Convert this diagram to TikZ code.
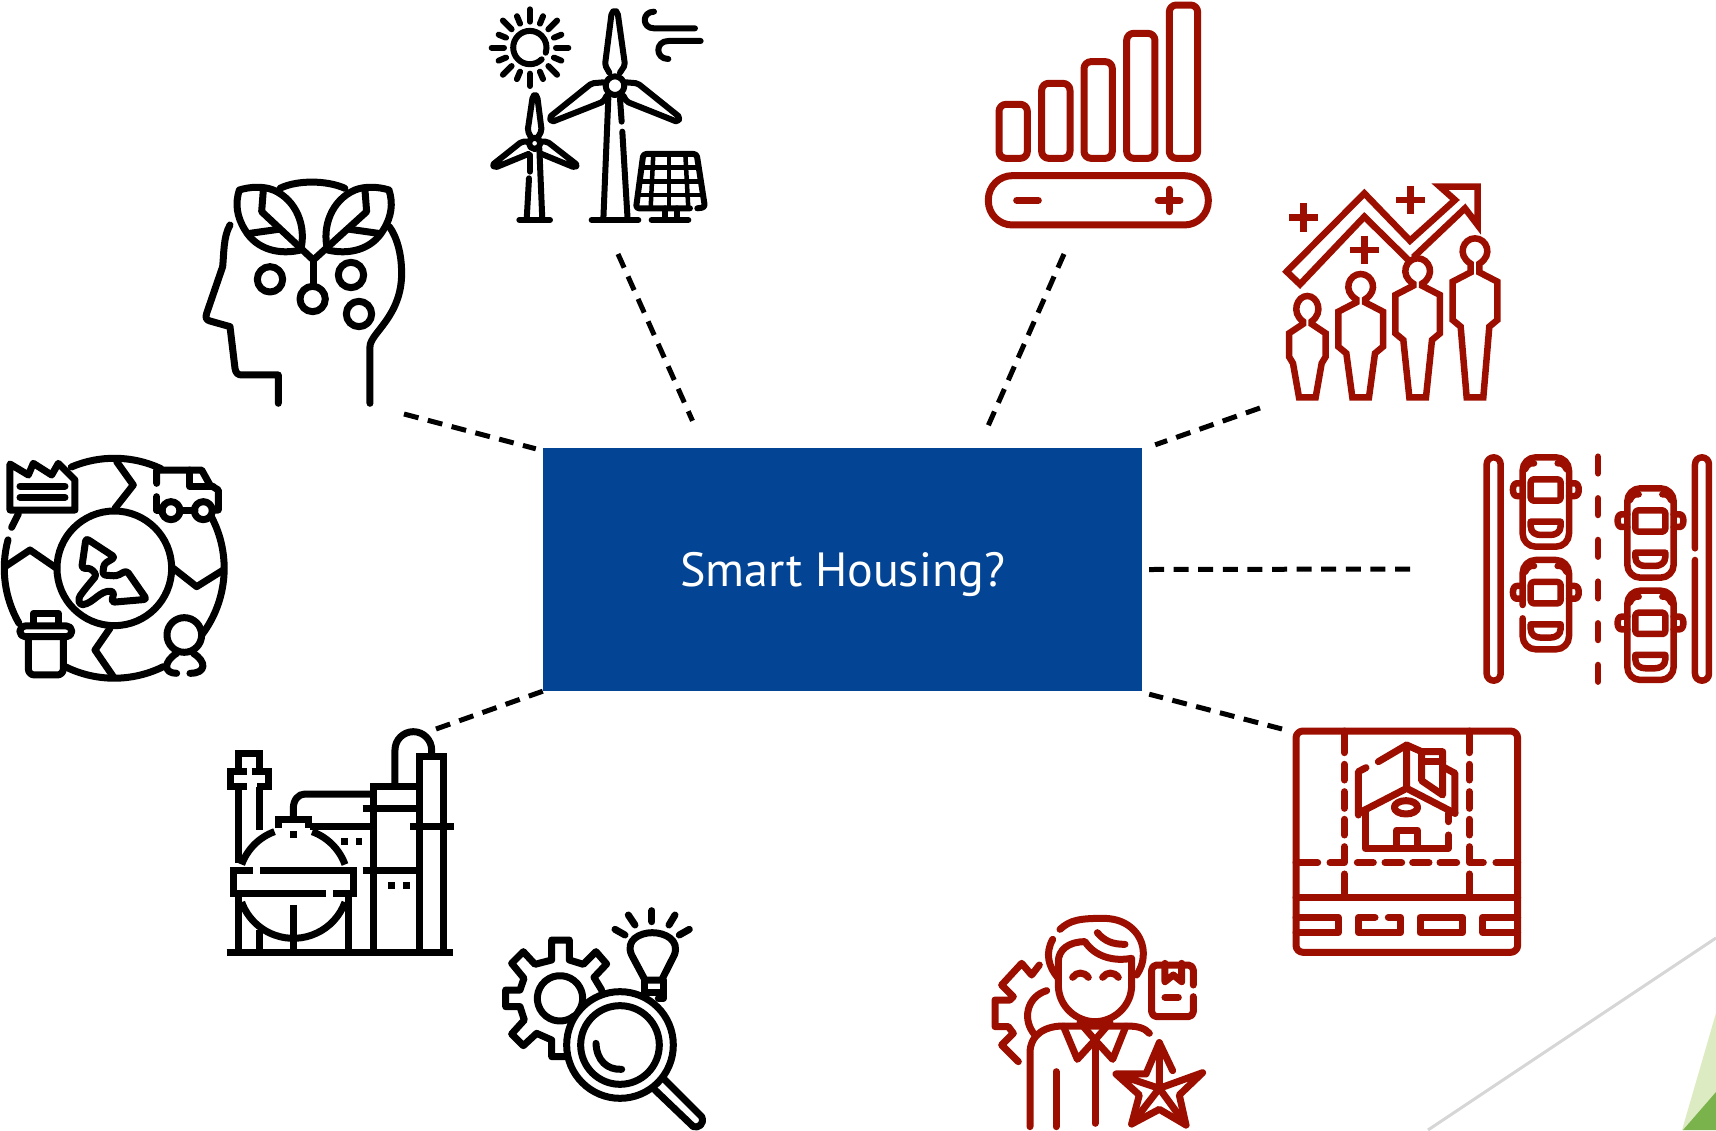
\documentclass[tikz,border=0pt]{standalone}
\usepackage{fontspec}
\setmainfont{PT Sans}
\usetikzlibrary{positioning,calc}
\definecolor{boxblue}{HTML}{034594}
\definecolor{iconred}{HTML}{9C0F00}
\definecolor{palegreen}{HTML}{DDEBC2}
\definecolor{leafgreen}{HTML}{7AB24B}
\definecolor{rulegrey}{HTML}{D6D6D6}
\tikzset{
  zoomed/.style={x=0.3333pt,y=-0.3333pt},
  iconline/.style={line width=#1,line cap=round,line join=round},
  iconline/.default=6pt,
  plantline/.style={line width=7pt,line cap=butt,line join=miter},
  dashlink/.style={line width=5pt,dash pattern=on 15pt off 9.6pt},
  housingbox/.style={fill=boxblue,text=white,minimum width=599pt,minimum height=243pt,inner sep=0pt,font=\fontsize{48}{56}\selectfont},
}
\newcommand{\caricon}[3]{
  \begin{scope}[shift={(#1,#2)}]
    \draw[rounded corners=13pt] (158,187) -- (158,52) -- (297,52) -- (297,320) -- (158,320) -- (158,#3);
    \draw[rounded corners=3pt] (182,118) rectangle (272,182);
    \draw (182,245) -- (272,245) -- (272,258) .. controls (272,278) and (255,285) .. (240,285) -- (214,285) .. controls (197,285) and (182,278) .. (182,258) -- cycle;
    \draw (158,130) -- (140,130) .. controls (125,130) and (125,168) .. (140,168) -- (158,168);
    \draw (297,130) -- (315,130) .. controls (330,130) and (330,168) .. (315,168) -- (297,168);
    \draw (165,88) .. controls (172,72) and (183,68) .. (192,70);
    \draw (290,88) .. controls (283,72) and (272,68) .. (263,70);
  \end{scope}
}
\begin{document}
\begin{tikzpicture}[x=1pt,y=-1pt]
  \useasboundingbox (0,0) rectangle (1716,1130);

  % Draw the slide corner
  \draw[rulegrey,line width=3pt] (1716,938) -- (1428,1130);
  \fill[palegreen] (1716,1013) -- (1682,1130) -- (1716,1130) -- cycle;
  \fill[leafgreen] (1716,1092) -- (1683,1130) -- (1716,1130) -- cycle;

  % Draw the box
  \node[housingbox] (housing) at (842.5,569.5) {\smash{\raisebox{-17pt}{Smart Housing?}}};

  % Draw the connector ends
  \coordinate (headEnd) at (404,414);
  \coordinate (windEnd) at (618,254);
  \coordinate (batteryEnd) at (1064,254);
  \coordinate (peopleEnd) at (1260,408);
  \coordinate (roadEnd) at (1410,569);
  \coordinate (plotEnd) at (1282,729);
  \coordinate (plantEnd) at (436,729);
  \coordinate (headFoot) at ([shift={(-7,1)}]housing.north west);
  \coordinate (windFoot) at ([shift={(-150,-27)}]housing.north);
  \coordinate (batteryFoot) at ([shift={(143,-16)}]housing.north);
  \coordinate (peopleFoot) at ([shift={(13,-3)}]housing.north east);
  \coordinate (roadFoot) at ([shift={(7,0)}]housing.east);
  \coordinate (plotFoot) at ([shift={(7,3)}]housing.south east);
  \coordinate (plantFoot) at (housing.south west);

  % Draw the connectors
  \draw[dashlink] (headEnd) -- (headFoot);
  \draw[dashlink] (windEnd) -- (windFoot);
  \draw[dashlink] (batteryEnd) -- (batteryFoot);
  \draw[dashlink] (peopleEnd) -- (peopleFoot);
  \draw[dashlink] (roadEnd) -- (roadFoot);
  \draw[dashlink] (plotEnd) -- (plotFoot);
  \draw[dashlink] (plantEnd) -- (plantFoot);

  % Wind and sun
  \begin{scope}[shift={(460,0)},zoomed,iconline=6pt]
    \draw (245,178) arc[start angle=45,end angle=378,radius=50];
    \begin{scope}[shift={(210,143)}]
      \foreach \ang in {0,45,...,315} \draw (\ang:78) -- (\ang:115);
      \foreach \ang in {22.5,67.5,...,337.5} \draw (\ang:78) -- (\ang:102);
    \end{scope}
    \draw (465,257) circle[radius=28];
    \draw[rounded corners=2pt] (448,218) -- (435,195) -- (455,38) -- (465,30) -- (473,38) -- (495,195) -- (480,218);
    \draw[rounded corners=2pt] (430,247) -- (395,250) -- (268,352) -- (275,366) -- (430,305) -- (440,287);
    \draw[rounded corners=2pt] (498,247) -- (533,250) -- (660,352) -- (653,366) -- (500,305) -- (490,287);
    \draw (445,295) -- (430,660);
    \draw (480,295) -- (485,365);
    \draw (487,395) -- (503,660);
    \draw (395,660) -- (535,660);
    \draw (224,430) circle[radius=17];
    \draw[rounded corners=2pt] (212,410) -- (203,392) -- (218,290) -- (225,283) -- (232,290) -- (245,392) -- (235,410);
    \draw[rounded corners=2pt] (205,425) -- (185,425) -- (97,495) -- (105,503) -- (205,462);
    \draw[rounded corners=2pt] (243,425) -- (262,425) -- (352,495) -- (345,503) -- (245,462);
    \draw (210,465) -- (210,515);
    \draw (207,535) -- (200,660);
    \draw (238,445) -- (247,660);
    \draw (178,660) -- (270,660);
    \draw (582,35) .. controls (545,35) and (545,85) .. (582,85) -- (705,85);
    \draw (722,123) -- (625,123) .. controls (585,123) and (585,177) .. (625,177);
    \draw[rounded corners=3pt] (690,625) -- (528,625) -- (550,462) -- (710,462) -- (735,622) -- (712,625);
    \foreach \topx/\botx in {580/572,627/627,676/685} \draw[line width=4.5pt] (\topx,462) -- (\botx,625);
    \draw[line width=4.5pt] (544,503) -- (716,503);
    \draw[line width=4.5pt] (539,545) -- (723,545);
    \draw[line width=4.5pt] (533,585) -- (729,585);
    \draw (615,625) -- (615,660);
    \draw (650,625) -- (650,660);
    \draw (575,660) -- (685,660);
  \end{scope}

  % Head with leaves
  \begin{scope}[shift={(180,170)},zoomed,iconline=7pt]
    \draw (570,700) -- (570,530) .. controls (570,490) and (665,440) .. (665,310) .. controls (665,250) and (650,200) .. (628,170);
    \draw (150,165) .. controls (130,200) and (132,250) .. (128,290) -- (80,430) .. controls (75,445) and (80,450) .. (90,453) -- (150,470) -- (165,595) .. controls (167,610) and (175,615) .. (185,615) -- (295,615) -- (295,700);
    \draw (300,55) .. controls (350,30) and (440,30) .. (495,55);
    \draw (178,60) .. controls (210,50) and (250,48) .. (280,60) .. controls (350,90) and (380,170) .. (362,240) .. controls (300,255) and (230,240) .. (195,180) .. controls (170,140) and (165,100) .. (178,60);
    \draw (627,60) .. controls (595,50) and (555,48) .. (525,60) .. controls (455,90) and (425,170) .. (443,240) .. controls (505,255) and (575,240) .. (610,180) .. controls (635,140) and (640,100) .. (627,60);
    \draw (400,270) -- (245,125) -- (250,60);
    \draw (400,270) -- (560,125) -- (555,60);
    \draw (210,190) -- (295,178);
    \draw (595,190) -- (510,178);
    \draw (400,270) -- (400,345);
    \draw (398,387) circle[radius=38];
    \draw (270,328) circle[radius=38];
    \draw (513,315) circle[radius=38];
    \draw (537,432) circle[radius=38];
  \end{scope}

  % Circular economy
  \begin{scope}[shift={(0,440)},zoomed,iconline=7pt]
    \draw (214,81) arc[start angle=-113,end angle=-65,radius=330];
    \draw (634,230) arc[start angle=-28,end angle=37,radius=330];
    \draw (490,680) arc[start angle=63.5,end angle=116.6,radius=330];
    \draw (57,550) arc[start angle=150,end angle=195,radius=330];
    \draw (343,385) circle[radius=172];
    \draw (350,65) -- (400,135) -- (345,205);
    \draw (15,380) -- (90,330) -- (170,385);
    \draw (520,385) -- (590,440) -- (670,390);
    \draw (330,565) -- (285,630) -- (340,710);
    \draw (30,72) -- (85,105) -- (100,70) -- (155,105) -- (175,70) -- (225,120) -- (225,210) -- (30,210) -- cycle;
    \draw (60,138) -- (195,138);
    \draw (60,172) -- (195,172);
    \draw (35,262) -- (55,222);
    \draw (470,130) -- (470,90) -- (605,90) -- (630,135) -- (655,150) -- (655,210) -- (637,210);
    \draw (570,90) -- (570,140) -- (640,140);
    \draw (470,170) -- (470,210) -- (487,210);
    \draw (540,210) -- (585,210);
    \draw (513,212) circle[radius=27];
    \draw (610,212) circle[radius=27];
    \draw[rounded corners=5pt] (60,558) rectangle (215,590);
    \draw (100,555) -- (100,520) -- (175,520) -- (175,555);
    \draw[rounded corners=6pt] (85,590) -- (85,705) -- (190,705) -- (190,590);
    \draw (553,585) circle[radius=52];
    \draw (530,640) .. controls (490,665) and (490,700) .. (530,700);
    \draw (580,640) .. controls (620,665) and (620,700) .. (570,700);
    \draw[rounded corners=3pt] (258,295) -- (345,352) -- (312,372) -- (308,405) -- (350,408) -- (380,392) -- (440,478) -- (335,487) -- (342,455) .. controls (300,450) and (280,490) .. (240,495) -- (235,475) .. controls (260,440) and (270,430) .. (290,405) -- (272,385) -- (245,385) -- cycle;
  \end{scope}

  % Refinery
  \begin{scope}[shift={(210,720)},zoomed,plantline]
    \draw (50,697) -- (730,697);
    \draw (85,150) -- (85,100) -- (150,100) -- (150,150);
    \draw (110,155) -- (60,155) -- (60,200) -- (110,200);
    \draw (125,155) -- (175,155) -- (175,200) -- (140,200);
    \draw (150,200) -- (150,330);
    \draw (85,200) -- (85,430);
    \draw (250,490) ++(200:165) arc[start angle=200,end angle=250,radius=165];
    \draw (250,490) ++(290:165) arc[start angle=290,end angle=340,radius=165];
    \draw (250,490) ++(20:165) arc[start angle=20,end angle=160,radius=165];
    \draw (205,325) -- (205,297) -- (295,297) -- (295,325);
    \fill (240,333) rectangle (260,353);
    \draw (128,452) -- (70,452) -- (70,520) -- (347,520);
    \draw (150,452) -- (430,452) -- (430,520) -- (370,520);
    \draw (250,297) -- (250,265) .. controls (250,240) and (265,222) .. (285,222) -- (490,222);
    \draw (300,320) -- (490,320);
    \fill (393,355) rectangle (413,375);
    \fill (437,355) rectangle (457,375);
    \fill (535,487) rectangle (555,507);
    \fill (580,487) rectangle (600,507);
    \draw (490,697) -- (490,200) -- (630,200);
    \draw (458,265) -- (630,265);
    \draw (458,452) -- (630,452);
    \draw (630,697) -- (630,110) -- (700,110) -- (700,697);
    \draw (600,320) -- (732,320);
    \draw (555,200) -- (555,90) arc[start angle=180,end angle=360,radius=55] -- (665,110);
    \draw (85,520) -- (85,697);
    \draw (150,630) -- (150,697);
    \draw (250,555) -- (250,697);
    \draw (415,530) -- (415,697);
  \end{scope}

  % Gear, bulb and magnifier
  \begin{scope}[shift={(490,900)},zoomed,iconline=7pt]
    \draw (210,295) ++(50:68) arc[start angle=50,end angle=395,radius=68];
    \draw (225,470) -- (185,470) -- (185,420) -- (140,400) -- (100,437) -- (65,402) -- (103,360) -- (90,320) -- (47,320) -- (47,270) -- (90,270) -- (102,235) -- (65,190) -- (100,155) -- (135,193) -- (185,180) -- (185,120) -- (238,120) -- (238,180) -- (280,193) -- (318,155) -- (350,192) -- (312,232) -- (335,270);
    \draw (390,435) circle[radius=160];
    \draw (390,435) circle[radius=118];
    \draw (318,430) .. controls (320,480) and (350,510) .. (395,508);
    \draw (520,535) -- (635,650) .. controls (645,672) and (625,685) .. (610,680) -- (495,570);
    \draw (465,240) -- (425,165) .. controls (405,120) and (450,98) .. (487,98) .. controls (525,98) and (570,120) .. (553,165) -- (515,240) -- cycle;
    \draw (465,240) -- (465,280);
    \draw (520,240) -- (520,295) -- (505,295);
    \draw (465,278) -- (520,278);
    \draw (415,45) -- (435,75);
    \draw (486,32) -- (486,65);
    \draw (555,45) -- (537,75);
    \draw (375,88) -- (405,105);
    \draw (598,88) -- (568,105);
  \end{scope}

  % Battery with bars
  \begin{scope}[shift={(970,0)},zoomed,iconline=7pt,iconred]
    \foreach \barx/\topy in {87/313,215/250,342/185,470/100,598/15}
      \draw[rounded corners=7pt] (\barx,475) -- (\barx,\topy) -- ({\barx+85},\topy) -- ({\barx+85},475) -- cycle;
    \draw[rounded corners=24pt] (55,527) rectangle (715,675);
    \draw (140,601) -- (205,601);
    \draw (565,601) -- (630,601);
    \draw (598,568) -- (598,635);
  \end{scope}

  % People and rising arrow
  \begin{scope}[shift={(1270,170)},zoomed,line width=6.5pt,line join=miter,iconred]
    \draw (430,262) -- (585,115) -- (623,165) -- (623,50) -- (510,50) -- (555,90) -- (420,212) -- (283,70) -- (50,305) -- (90,343) -- (283,140) -- (415,270);
    \foreach \plusx/\plusy in {100/143,422/90,283/240} {
      \draw ({\plusx-43},\plusy) -- ({\plusx+43},\plusy);
      \draw (\plusx,{\plusy-43}) -- (\plusx,{\plusy+43});
    }
    \foreach \cx/\topy/\shy/\hipy/\hw/\hd in {112/378/490/560/55/31,272/312/425/530/67/35,443/265/375/490/67/35,615/205/335/450/67/35} {
      \begin{scope}[shift={(\cx,0)}]
        \draw (-25,682) -- (-43,{\hipy+20}) -- (-\hw,\hipy) -- (-\hw,\shy) -- (-13,{\shy-28}) -- (-13,{\topy+76}) .. controls ({-1.6*\hd},{\topy+50}) and (-\hd,\topy) .. (0,\topy) .. controls (\hd,\topy) and ({1.6*\hd},{\topy+50}) .. (13,{\topy+76}) -- (13,{\shy-28}) -- (\hw,\shy) -- (\hw,\hipy) -- (43,{\hipy+20}) -- (25,682) -- cycle;
      \end{scope}
    }
  \end{scope}

  % Road with cars
  \begin{scope}[shift={(1470,440)},zoomed,iconline=6.5pt,iconred]
    \draw[rounded corners=7pt] (50,52) rectangle (92,722);
    \draw[rounded corners=7pt] (675,325) -- (675,52) -- (717,52) -- (717,722) -- (675,722) -- (675,360);
    \foreach \dashy in {50,175,300,425,550,675} \draw (384,\dashy) -- (384,{\dashy+50});
    \caricon{0}{0}{187}
    \caricon{0}{308}{227}
    \caricon{314}{93}{187}
    \caricon{314}{400}{187}
  \end{scope}

  % Plot with house
  \begin{scope}[shift={(1280,720)},zoomed,iconline=7pt,iconred]
    \draw[rounded corners=7pt] (48,33) rectangle (713,697);
    \foreach \roadx in {193,568} {
      \draw (\roadx,33) -- (\roadx,98);
      \draw (\roadx,133) -- (\roadx,180);
      \draw (\roadx,215) -- (\roadx,265);
      \draw (\roadx,298) -- (\roadx,345);
      \draw (\roadx,462) -- (\roadx,532);
    }
    \draw (193,380) -- (193,428) -- (150,428);
    \draw (568,380) -- (568,428) -- (610,428);
    \draw (48,428) -- (113,428);
    \draw (232,428) -- (280,428);
    \draw (315,428) -- (365,428);
    \draw (398,428) -- (447,428);
    \draw (480,428) -- (530,428);
    \draw (648,428) -- (713,428);
    \draw (48,532) -- (713,532);
    \draw (48,592) -- (175,592) -- (175,638) -- (48,638);
    \draw (285,592) -- (235,592) -- (235,638) -- (362,638) -- (362,592) -- (325,592);
    \draw (420,592) rectangle (548,638);
    \draw (713,592) -- (608,592) -- (608,638) -- (713,638);
    \draw (235,285) -- (235,155) -- (258,143);
    \draw (295,125) -- (380,75) -- (380,205);
    \draw (380,75) -- (425,95) -- (488,95) -- (488,225) -- (425,182) -- (425,95);
    \draw (425,125) -- (488,125);
    \draw (488,140) -- (525,160) -- (525,280);
    \draw (235,280) -- (380,205) -- (525,280);
    \draw (255,270) -- (255,385) -- (505,385) -- (505,345);
    \draw (505,305) -- (505,280);
    \draw (350,385) -- (350,330) -- (412,330) -- (412,385);
    \draw (378,262) ellipse[x radius=35,y radius=20];
  \end{scope}

  % Worker with star
  \begin{scope}[shift={(980,900)},zoomed,iconline=7pt,iconred]
    \draw (240,88) .. controls (270,60) and (300,55) .. (370,55) .. controls (450,55) and (490,110) .. (490,160) .. controls (490,190) and (480,210) .. (470,225);
    \draw (218,118) .. controls (195,160) and (205,200) .. (235,235);
    \draw (235,255) -- (235,185) .. controls (235,150) and (265,125) .. (315,125) .. controls (345,170) and (400,185) .. (455,175) -- (455,255) .. controls (455,320) and (400,365) .. (345,365) .. controls (290,365) and (235,320) .. (235,255);
    \draw (352,98) .. controls (375,125) and (400,133) .. (435,133);
    \draw (278,232) .. controls (290,215) and (312,215) .. (325,232);
    \draw (368,232) .. controls (380,215) and (402,215) .. (415,232);
    \draw (150,680) -- (150,460) .. controls (150,400) and (200,378) .. (250,378) -- (440,378) .. controls (475,378) and (495,385) .. (508,400);
    \draw (250,378) -- (292,478) -- (345,420) -- (398,478) -- (438,378);
    \draw (300,368) -- (345,420) -- (390,368);
    \draw (345,420) -- (345,670);
    \draw (228,515) -- (228,680);
    \draw (115,485) -- (65,435) -- (100,400) -- (85,380) -- (45,380) -- (45,300) -- (90,300) -- (100,290) -- (65,255) -- (125,190) -- (155,225) -- (178,195);
    \draw (200,272) .. controls (140,290) and (125,360) .. (165,405);
    \draw[rounded corners=5pt] (640,255) -- (640,195) -- (515,195) -- (515,350) -- (640,350) -- (640,290);
    \draw (555,190) -- (555,245) -- (580,225) -- (605,245) -- (605,190);
    \draw (555,292) -- (595,292);
    \draw (578,512) -- (538,428) -- (498,522) -- (408,522) -- (478,585) -- (455,672) -- (538,628) -- (618,675) -- (598,585) -- (668,518) -- (538,565) -- (408,522);
    \draw (538,428) -- (538,565) -- (455,672);
    \draw (538,565) -- (618,675);
  \end{scope}
\end{tikzpicture}
\end{document}
